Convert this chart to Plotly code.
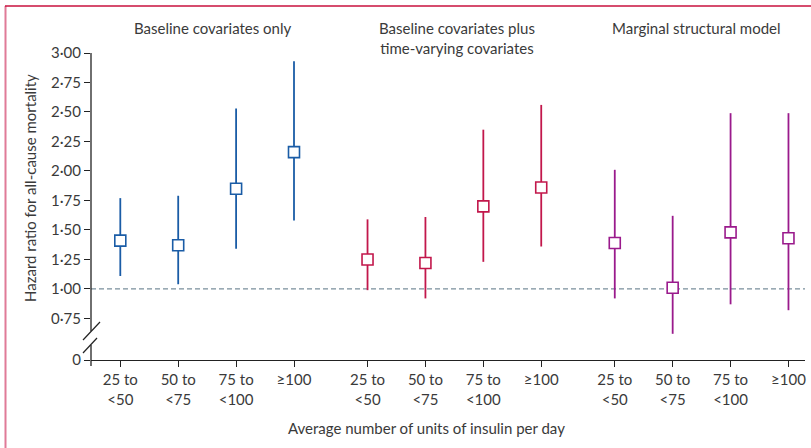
import plotly.graph_objects as go

# ---------------- data ----------------
categories = ["25 to<br>&lt;50", "50 to<br>&lt;75", "75 to<br>&lt;100", "≥100"]
panel_titles = ["Baseline covariates only",
                "Baseline covariates plus<br>time-varying covariates",
                "Marginal structural model"]

hr_baseline = [1.41, 1.37, 1.85, 2.16]
lo_baseline = [1.11, 1.04, 1.34, 1.58]
hi_baseline = [1.77, 1.79, 2.53, 2.93]

hr_timevar = [1.25, 1.22, 1.70, 1.86]
lo_timevar = [0.99, 0.92, 1.23, 1.36]
hi_timevar = [1.59, 1.61, 2.35, 2.56]

hr_msm = [1.39, 1.01, 1.48, 1.43]
lo_msm = [0.92, 0.62, 0.87, 0.82]
hi_msm = [2.01, 1.62, 2.49, 2.49]

ytick_vals = [0.75, 1.00, 1.25, 1.50, 1.75, 2.00, 2.25, 2.50, 2.75, 3.00]
ytick_text = ["0·75", "1·00", "1·25", "1·50", "1·75", "2·00", "2·25", "2·50", "2·75", "3·00"]

# ---------------- layout constants ----------------
W, H = 811, 448
L, R, T, B = 91, 805, 53, 360
GROUP_STEP = 4.27
Y_BOTTOM = 0.398          # where the broken axis shows "0"
FONT = "Lato"
TXT = "#3a3a3a"
AX = "#222222"
colors = ["#1a5ca6", "#c2174b", "#9a1a8c"]

series = [(hr_baseline, lo_baseline, hi_baseline),
          (hr_timevar, lo_timevar, hi_timevar),
          (hr_msm, lo_msm, hi_msm)]

fig = go.Figure()
tickvals_x, ticktext_x = [], []
for g, (hr, lo, hi) in enumerate(series):
    xs = [g * GROUP_STEP + i for i in range(len(categories))]
    tickvals_x += xs
    ticktext_x += categories
    fig.add_trace(go.Scatter(
        x=xs, y=hr, mode="markers",
        marker=dict(symbol="square", size=11, color="white",
                    line=dict(color=colors[g], width=1.6)),
        error_y=dict(type="data", symmetric=False,
                     array=[h - v for h, v in zip(hi, hr)],
                     arrayminus=[v - l for v, l in zip(hr, lo)],
                     color=colors[g], thickness=1.8, width=0),
        showlegend=False, cliponaxis=False,
    ))

def px(xp):
    return (xp - L) / (R - L)

def py(yp):
    return (B - yp) / (B - T)

shapes = []
# reference line at HR = 1
shapes.append(dict(type="line", xref="paper", yref="y", x0=0, x1=1, y0=1, y1=1,
                   line=dict(color="#7a8f9c", width=1.3, dash="5px,3px"), layer="below"))
# broken y axis line
shapes.append(dict(type="line", xref="paper", yref="paper", x0=0, x1=0,
                   y0=py(T), y1=py(331), line=dict(color=AX, width=1.3)))
shapes.append(dict(type="line", xref="paper", yref="paper", x0=0, x1=0,
                   y0=py(345), y1=py(366), line=dict(color=AX, width=1.3)))
# axis break slashes
shapes.append(dict(type="line", xref="paper", yref="paper", x0=px(83), x1=px(100),
                   y0=py(340), y1=py(322), line=dict(color=AX, width=1.2)))
shapes.append(dict(type="line", xref="paper", yref="paper", x0=px(83), x1=px(97),
                   y0=py(353), y1=py(338), line=dict(color=AX, width=1.2)))
# frame: left pink and top crimson
shapes.append(dict(type="line", xref="paper", yref="paper", x0=px(5.5), x1=px(5.5),
                   y0=py(6), y1=py(448), line=dict(color="#e07b98", width=2)))
shapes.append(dict(type="line", xref="paper", yref="paper", x0=px(5), x1=px(811),
                   y0=py(6), y1=py(6), line=dict(color="#c8103e", width=1.6)))

annotations = []
title_px = [212, 457, 696]
for t, xpix in zip(panel_titles, title_px):
    annotations.append(dict(text=t, xref="paper", yref="paper", x=px(xpix), y=py(17),
                            xanchor="center", yanchor="top", showarrow=False,
                            font=dict(family=FONT, size=15, color=TXT)))
annotations.append(dict(text="Average number of units of insulin per day",
                        xref="paper", yref="paper", x=px(426), y=py(428),
                        xanchor="center", yanchor="middle", showarrow=False,
                        font=dict(family=FONT, size=15, color=TXT)))
annotations.append(dict(text="Hazard ratio for all-cause mortality",
                        xref="paper", yref="paper", x=px(30), y=py(188),
                        xanchor="center", yanchor="middle", textangle=-90, showarrow=False,
                        font=dict(family=FONT, size=15, color=TXT)))

fig.update_layout(
    width=W, height=H,
    margin=dict(l=L, r=W - R, t=T, b=H - B, pad=0),
    paper_bgcolor="white", plot_bgcolor="white",
    font=dict(family=FONT, size=15, color=TXT),
    xaxis=dict(range=[(L - 120.3) / 57.9, (R - 120.3) / 57.9],
               tickvals=tickvals_x, ticktext=ticktext_x,
               showline=True, linecolor=AX, linewidth=1.3,
               ticks="outside", ticklen=6, tickcolor=AX, tickwidth=1.2,
               showgrid=False, zeroline=False,
               tickfont=dict(family=FONT, size=15, color=TXT)),
    yaxis=dict(range=[Y_BOTTOM, 3.0],
               tickvals=[Y_BOTTOM] + ytick_vals, ticktext=["0"] + ytick_text,
               showline=False, ticks="outside", ticklen=6, tickcolor=AX, tickwidth=1.2,
               showgrid=False, zeroline=False,
               tickfont=dict(family=FONT, size=15, color=TXT)),
    shapes=shapes, annotations=annotations,
)

fig.write_html("out.html", config={"displayModeBar": False},
               post_script="document.body.style.margin='0';document.body.style.padding='0';")
